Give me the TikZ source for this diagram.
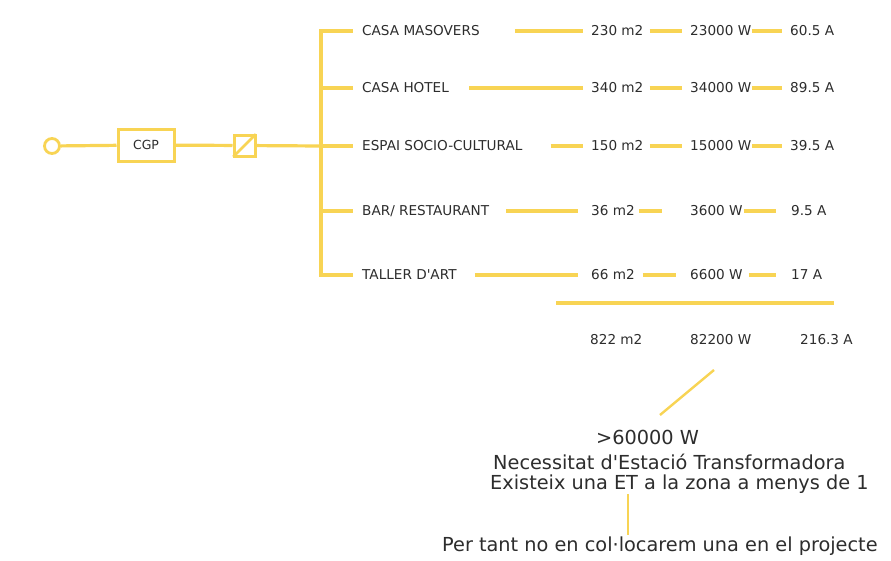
\documentclass[tikz,border=0pt]{standalone}
\usepackage{fontspec}
\usepackage{tikz}
\newfontfamily\dvs{DejaVu Sans}
\definecolor{elecyellow}{RGB}{248,212,84}
\definecolor{txtgray}{RGB}{45,45,45}

\begin{document}
\begin{tikzpicture}[x=1pt,y=-1pt,
    wire/.style={draw=elecyellow,line width=3.2pt},
    lab/.style={anchor=west,inner sep=0pt,text=txtgray,font=\dvs\fontsize{13.6}{15}\selectfont},
    note/.style={anchor=west,inner sep=0pt,text=txtgray,font=\dvs\fontsize{19.3}{22}\selectfont},
    term/.style={circle,draw=elecyellow,line width=2.8pt,minimum size=15pt,inner sep=0pt},
    cgpbox/.style={draw=elecyellow,line width=3pt,minimum width=56pt,minimum height=32pt,inner sep=0pt,text=txtgray,font=\dvs\fontsize{12.5}{14}\selectfont},
    swbox/.style={draw=elecyellow,line width=3pt,minimum size=21pt,inner sep=0pt}]
    \useasboundingbox[fill=white] (0,0) rectangle (891,560);

    %supply side
    \node[term] (inp) at (52,146) {};
    \node[cgpbox] (cgp) at (146,145) {CGP};
    \node[swbox] (sw) at (244.5,145.5) {};
    \draw[draw=elecyellow,line width=2.6pt,shorten <=1pt,shorten >=1pt] (sw.south west) -- (sw.north east);
    \draw[wire] (inp) -- (cgp);
    \draw[wire] (cgp) -- (sw);

    %bus
    \coordinate (b1) at (321,31);
    \coordinate (b2) at (321,88);
    \coordinate (b3) at (321,146);
    \coordinate (b4) at (321,211);
    \coordinate (b5) at (321,275);
    \draw[wire] (sw) -- (b3);
    \draw[wire] ([yshift=-1.6pt]b1) -- ([yshift=1.6pt]b5);

    %loads
    \node[lab] (masovers) at (362,31) {CASA MASOVERS};
    \node[lab] (hotel) at (362,88) {CASA HOTEL};
    \node[lab] (espai) at (362,146) {ESPAI SOCIO-CULTURAL};
    \node[lab] (bar) at (362,211) {BAR/ RESTAURANT};
    \node[lab] (taller) at (362,275) {TALLER D'ART};

    \node[lab] (a1) at (591,31) {230 m2};
    \node[lab] (a2) at (591,88) {340 m2};
    \node[lab] (a3) at (591,146) {150 m2};
    \node[lab] (a4) at (591,211) {36 m2};
    \node[lab] (a5) at (591,275) {66 m2};

    \node[lab] (p1) at (690,31) {23000 W};
    \node[lab] (p2) at (690,88) {34000 W};
    \node[lab] (p3) at (690,146) {15000 W};
    \node[lab] (p4) at (690,211) {3600 W};
    \node[lab] (p5) at (690,275) {6600 W};

    \node[lab] (i1) at (790,31) {60.5 A};
    \node[lab] (i2) at (790,88) {89.5 A};
    \node[lab] (i3) at (790,146) {39.5 A};
    \node[lab] (i4) at (791,211) {9.5 A};
    \node[lab] (i5) at (791,275) {17 A};

    %branches
    \draw[wire,shorten >=9pt] ([xshift=-1.6pt]b1) -- (masovers.west);
    \draw[wire,shorten >=9pt] (b2) -- (hotel.west);
    \draw[wire,shorten >=9pt] (b3) -- (espai.west);
    \draw[wire,shorten >=9pt] (b4) -- (bar.west);
    \draw[wire,shorten >=9pt] ([xshift=-1.6pt]b5) -- (taller.west);

    \draw[wire,shorten <=35pt,shorten >=8pt] (masovers.east) -- (a1.west);
    \draw[wire,shorten <=20pt,shorten >=8pt] (hotel.east) -- (a2.west);
    \draw[wire,shorten <=28pt,shorten >=8pt] (espai.east) -- (a3.west);
    \draw[wire,shorten <=17pt,shorten >=13pt] (bar.east) -- (a4.west);
    \draw[wire,shorten <=18pt,shorten >=13pt] (taller.east) -- (a5.west);

    \draw[wire,shorten <=6pt,shorten >=8pt] (a1.east) -- (p1.west);
    \draw[wire,shorten <=6pt,shorten >=8pt] (a2.east) -- (p2.west);
    \draw[wire,shorten <=6pt,shorten >=8pt] (a3.east) -- (p3.west);
    \draw[wire,shorten <=4pt,shorten >=28pt] (a4.east) -- (p4.west);
    \draw[wire,shorten <=8pt,shorten >=14pt] (a5.east) -- (p5.west);

    \draw[wire,shorten <=1pt,shorten >=8pt] (p1.east) -- (i1.west);
    \draw[wire,shorten <=1pt,shorten >=8pt] (p2.east) -- (i2.west);
    \draw[wire,shorten <=1pt,shorten >=8pt] (p3.east) -- (i3.west);
    \draw[wire,shorten <=1pt,shorten >=15pt] (p4.east) -- (i4.west);
    \draw[wire,shorten <=6pt,shorten >=15pt] (p5.east) -- (i5.west);

    %totals
    \coordinate (sumL) at (556,303);
    \coordinate (sumR) at (834,303);
    \draw[wire,line width=4.2pt] (sumL) -- (sumR);
    \node[lab] (atot) at (590,340) {822 m2};
    \node[lab] (ptot) at (690,340) {82200 W};
    \node[lab] (itot) at (800,340) {216.3 A};

    %notes
    \node[note] (limit) at (596,437) {>60000 W};
    \node[note] (need) at (493,462) {Necessitat d'Estació Transformadora};
    \node[note] (exist) at (490,484) {Existeix una ET a la zona a menys de 1};
    \node[note] (concl) at (442,546) {Per tant no en col·locarem una en el projecte};
    \coordinate (dtop) at (714,370);
    \coordinate (dbot) at (660,415);
    \draw[wire,line width=2.4pt] (dtop) -- (dbot);
    \coordinate (vtop) at (628,494);
    \coordinate (vbot) at (628,535);
    \draw[wire,line width=2.4pt] (vtop) -- (vbot);
\end{tikzpicture}
\end{document}
